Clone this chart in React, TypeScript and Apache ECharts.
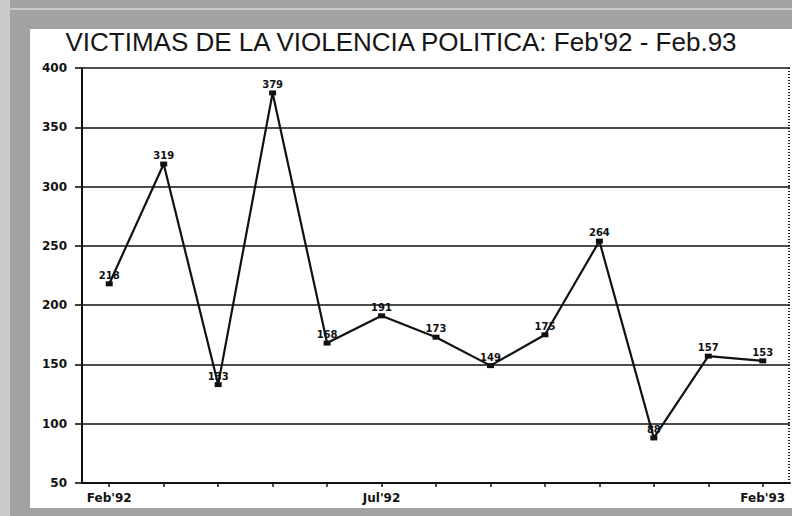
import React, { useEffect, useRef } from "react";
import * as echarts from "echarts";

const categories = ["Feb'92", "Mar'92", "Abr'92", "May'92", "Jun'92", "Jul'92", "Ago'92", "Set'92", "Oct'92", "Nov'92", "Dic'92", "Ene'93", "Feb'93"];
const victims = [218, 319, 133, 379, 168, 191, 173, 149, 175, 254, 88, 157, 153];
const pointLabels = ["218", "319", "133", "379", "168", "191", "173", "149", "175", "264", "88", "157", "153"];
const tickLabels = ["Feb'92", "Jul'92", "Feb'93"];
const yMin = 50;
const yMax = 400;
const yStep = 50;
const titleText = "VICTIMAS DE LA VIOLENCIA POLITICA: Feb'92 - Feb.93";

export default function App() {
  const ref = useRef<HTMLDivElement>(null);
  useEffect(() => {
    if (!ref.current) return;
    const chart = echarts.init(ref.current, undefined, { renderer: "svg" });
    const bold = "DejaVu Sans";
    chart.setOption({
      animation: false,
      backgroundColor: "#ffffff",
      graphic: [
        { type: "rect", z: -30, shape: { x: 0, y: 0, width: 792, height: 516 }, style: { fill: "#a2a2a2" } },
        { type: "rect", z: -25, shape: { x: 0, y: 0, width: 10, height: 516 }, style: { fill: "#cacaca" } },
        { type: "rect", z: -25, shape: { x: 0, y: 8, width: 792, height: 2 }, style: { fill: "#cacaca" } },
        { type: "rect", z: -10, shape: { x: 30, y: 29, width: 762, height: 479 }, style: { fill: "#ffffff" } },
        {
          type: "text",
          x: 401,
          y: 42,
          style: { text: titleText, font: "26px 'Liberation Sans'", fill: "#161616", textAlign: "center", textVerticalAlign: "middle" },
        },
        { type: "line", shape: { x1: 789, y1: 68, x2: 789, y2: 483 }, style: { stroke: "#222", lineWidth: 2, lineDash: [1, 2] } },
      ],
      grid: { left: 82, right: 2, top: 68, bottom: 33, containLabel: false },
      xAxis: {
        type: "category",
        data: categories,
        boundaryGap: true,
        axisLine: { lineStyle: { color: "#111", width: 2 } },
        axisTick: { show: true, alignWithLabel: true, interval: 0, length: 4, lineStyle: { color: "#111", width: 1.5 } },
        axisLabel: {
          interval: 0,
          margin: 9,
          color: "#111",
          fontFamily: bold,
          fontWeight: "bold",
          fontSize: 12,
          formatter: (v: string) => (tickLabels.includes(v) ? v : ""),
        },
        splitLine: { show: false },
      },
      yAxis: {
        type: "value",
        min: yMin,
        max: yMax,
        interval: yStep,
        axisLine: { show: true, lineStyle: { color: "#111", width: 2 } },
        axisTick: { show: true, length: 7, lineStyle: { color: "#111", width: 1.6 } },
        axisLabel: { margin: 15, color: "#111", fontFamily: bold, fontWeight: "bold", fontSize: 12 },
        splitLine: { show: true, lineStyle: { color: "#111", width: 1.6 } },
      },
      series: [
        {
          type: "line",
          data: victims,
          symbol: "rect",
          symbolSize: [7, 5],
          itemStyle: { color: "#111" },
          lineStyle: { color: "#111", width: 2.2 },
          label: {
            show: true,
            position: "top",
            distance: 1,
            color: "#111",
            fontFamily: bold,
            fontWeight: "bold",
            fontSize: 10,
            formatter: (p: any) => pointLabels[p.dataIndex],
          },
        },
      ],
    });
    return () => chart.dispose();
  }, []);
  return <div ref={ref} style={{ position: "absolute", left: 0, top: 0, width: 792, height: 516 }} />;
}
